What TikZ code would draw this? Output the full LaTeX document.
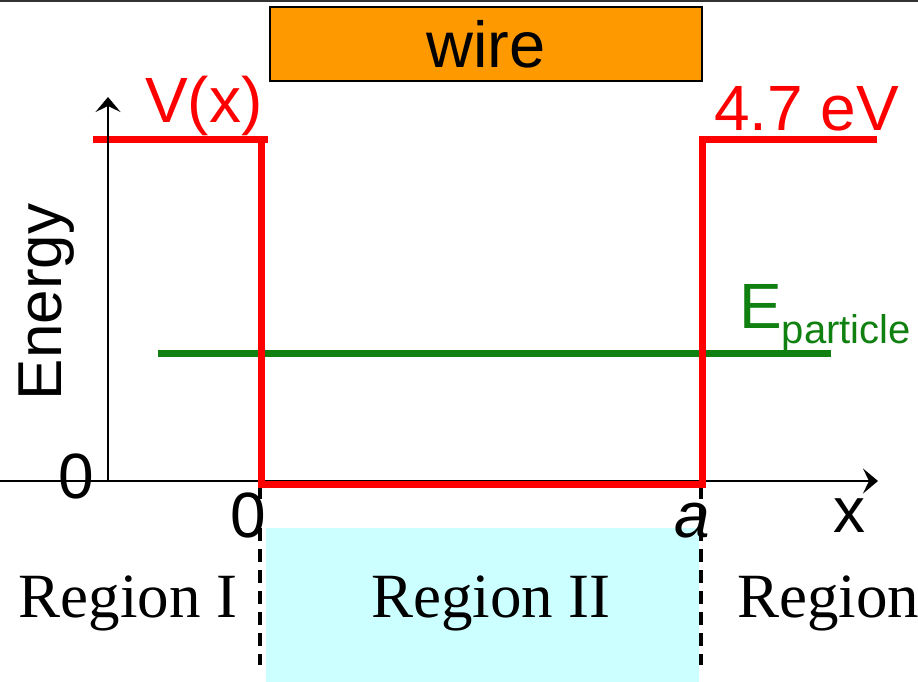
\documentclass[tikz,border=0pt]{standalone}
\usepackage{fontspec}
\setmainfont{Liberation Sans}
\newfontfamily\timesf{Liberation Serif}
\usetikzlibrary{arrows.meta}
\definecolor{wireorange}{RGB}{255,153,0}
\definecolor{regioncyan}{RGB}{204,255,255}
\definecolor{egreen}{RGB}{16,128,16}
\begin{document}
\begin{tikzpicture}[x=1pt,y=-1pt,
  bigtext/.style={font=\fontsize{64}{70}\selectfont, inner sep=0pt},
  regiontext/.style={font=\timesf\fontsize{63}{70}\selectfont, inner sep=0pt, anchor=base},
  redline/.style={draw=red, line width=7pt, line join=miter},
  axisline/.style={draw=black, line width=2.6pt, -{Stealth[length=15pt,width=25pt,inset=6pt]}},
  dashline/.style={draw=black, line width=3.5pt, dash pattern=on 13pt off 8pt}]
\useasboundingbox (0,0) rectangle (918,681);
\clip (0,0) rectangle (918,681);
% top border
\coordinate (tl) at (0,1);
\coordinate (tr) at (918,1);
\draw[line width=2.5pt, draw=black!80] (tl) -- (tr);
% region II shading
\node[fill=regioncyan, draw=none, inner sep=0pt, anchor=north west,
      minimum width=433pt, minimum height=160pt] (r2box) at (266,528) {};
% wire
\node[fill=wireorange, draw=black, line width=2pt, inner sep=0pt,
      minimum width=432pt, minimum height=74pt, font=\fontsize{65}{70}\selectfont] (wire) at (486,44) {wire};
% dashed boundaries
\coordinate (d1t) at (260,486); \coordinate (d1b) at (260,665);
\coordinate (d2t) at (701,486); \coordinate (d2b) at (701,665);
\draw[dashline] (d1t) -- (d1b);
\draw[dashline] (d2t) -- (d2b);
% x axis
\coordinate (xs) at (0,481);
\coordinate (xe) at (878,481);
\draw[axisline] (xs) -- (xe);
% energy level
\coordinate (gs) at (158,353);
\coordinate (ge) at (831,353);
\draw[draw=egreen, line width=7pt] (gs) -- (ge);
% potential
\coordinate (p1) at (93,139);
\coordinate (p2) at (268,139);
\coordinate (p3) at (261,139);
\coordinate (p4) at (261,484);
\coordinate (p5) at (702,484);
\coordinate (p6) at (702,139);
\coordinate (p7) at (877,139);
\draw[redline] (p1) -- (p2);
\draw[redline] (p3) -- (p4) -- (p5) -- (p6) -- (p7);
% y axis
\coordinate (ys) at (108,481);
\coordinate (ye) at (108,97);
\draw[axisline] (ys) -- (ye);
% labels
\node[bigtext, text=red, anchor=base west] (vx) at (145,122) {V(x)};
\node[bigtext, text=red, anchor=base west] (ev) at (714,130) {4.7 eV};
\node[font=\fontsize{62}{70}\selectfont, inner sep=0pt, rotate=90] (energy) at (47,302) {Energy};
\node[bigtext, text=egreen, anchor=base west] (epart) at (739,328)
  {E\raisebox{-15pt}{\fontsize{40}{44}\selectfont particle}};
\node[bigtext, anchor=base] (zeroy) at (76,498) {0};
\node[bigtext, anchor=base] (zerox) at (248,537) {0};
\node[bigtext, anchor=base] (alab) at (692,537) {\itshape a};
\node[bigtext, anchor=base] (xlab) at (849,532) {x};
\node[regiontext] (reg1) at (128,617) {Region I};
\node[regiontext] (reg2) at (491,617) {Region II};
\node[regiontext, anchor=base west] (reg3) at (737,617) {Region};
\end{tikzpicture}
\end{document}
